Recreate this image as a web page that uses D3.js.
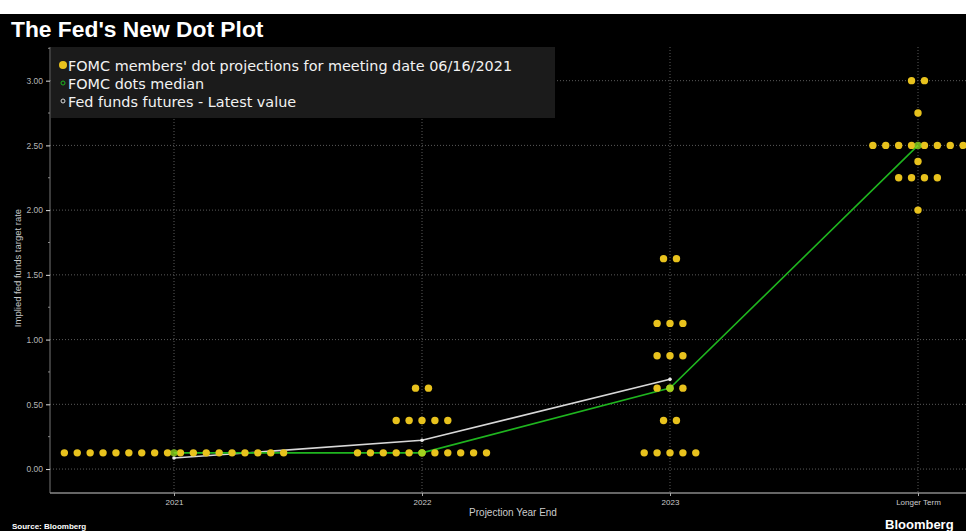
<!DOCTYPE html>
<html>
<head>
<meta charset="utf-8">
<script src="https://cdn.jsdelivr.net/npm/d3@7"></script>
<style>
  body { margin: 0; background: #fff; }
  svg { display: block; }
</style>
</head>
<body>
<div id="vis"></div>
<script>
// Data
const categories = ["2021", "2022", "2023", "Longer Term"];

// FOMC dots: rate level and how many members put a dot there
const dots2021 = [{ rate: 0.125, count: 18 }];
const dots2022 = [{ rate: 0.125, count: 11 }, { rate: 0.375, count: 5 }, { rate: 0.625, count: 2 }];
const dots2023 = [
    { rate: 0.125, count: 5 }, { rate: 0.375, count: 2 }, { rate: 0.625, count: 3 },
    { rate: 0.875, count: 3 }, { rate: 1.125, count: 3 }, { rate: 1.625, count: 2 }
];
const dotsLonger = [
    { rate: 2.0, count: 1 }, { rate: 2.25, count: 4 }, { rate: 2.375, count: 1 },
    { rate: 2.5, count: 8 }, { rate: 2.75, count: 1 }, { rate: 3.0, count: 2 }
];
const dotGroups = [dots2021, dots2022, dots2023, dotsLonger];

const medianValues = [0.125, 0.125, 0.625, 2.5];
const futuresValues = [0.085, 0.222, 0.693];

const yTicks = [0, 0.5, 1, 1.5, 2, 2.5, 3];
const legendLabels = [
    "FOMC members' dot projections for meeting date 06/16/2021",
    "FOMC dots median",
    "Fed funds futures - Latest value"
];

const W = 966, H = 531;
const plot = { left: 50, right: 1042, top: 47, bottom: 493 };
const dotGap = 12.9;

const svg = d3.select("#vis").append("svg")
    .attr("width", W)
    .attr("height", H);

// fundo preto
svg.append("rect")
    .attr("x", 0).attr("y", 14)
    .attr("width", W).attr("height", H - 14)
    .attr("fill", "#000");

const x = d3.scalePoint()
    .domain(categories)
    .range([plot.left, plot.right])
    .padding(0.5);

const y = d3.scaleLinear()
    .domain([-0.185, 3.26])
    .range([plot.bottom, plot.top]);

// grelha
svg.append("g")
    .selectAll("line")
    .data(yTicks)
    .join("line")
    .attr("x1", plot.left).attr("x2", plot.right)
    .attr("y1", d => y(d)).attr("y2", d => y(d))
    .attr("stroke", "#5a5a5a")
    .attr("stroke-dasharray", "1,2");

svg.append("g")
    .selectAll("line")
    .data(categories)
    .join("line")
    .attr("x1", d => x(d)).attr("x2", d => x(d))
    .attr("y1", plot.top).attr("y2", plot.bottom)
    .attr("stroke", "#5a5a5a")
    .attr("stroke-dasharray", "1,2");

// eixo y
const yAxis = svg.append("g")
    .attr("transform", `translate(${plot.left},0)`)
    .call(d3.axisLeft(y).tickValues(yTicks).tickFormat(d3.format(".2f")).tickSize(4).tickPadding(3));
yAxis.select(".domain").attr("stroke", "#777").attr("d", `M0,${plot.top}V${plot.bottom}`);
yAxis.selectAll(".tick line").attr("stroke", "#ddd");
yAxis.selectAll(".tick text")
    .attr("fill", "#b5b5b5")
    .attr("font-family", "Liberation Sans Narrow, Liberation Sans, sans-serif")
    .attr("font-size", 8.5);

// minor ticks
svg.append("g")
    .selectAll("line")
    .data(d3.range(0.25, 3.26, 0.5))
    .join("line")
    .attr("x1", plot.left - 2).attr("x2", plot.left)
    .attr("y1", d => y(d)).attr("y2", d => y(d))
    .attr("stroke", "#888");

// eixo x
const xAxis = svg.append("g")
    .attr("transform", `translate(0,${plot.bottom})`)
    .call(d3.axisBottom(x).tickSize(3).tickPadding(3));
xAxis.select(".domain").attr("stroke", "#888").attr("stroke-width", 1.5)
    .attr("d", `M${plot.left},0H${plot.right}`);
xAxis.selectAll(".tick line").attr("stroke", "#aaa");
xAxis.selectAll(".tick text")
    .attr("fill", "#ccc")
    .attr("font-family", "Liberation Sans Narrow, Liberation Sans, sans-serif")
    .attr("font-size", 8);

svg.append("text")
    .attr("x", 513).attr("y", 516)
    .attr("text-anchor", "middle")
    .attr("fill", "#ccc")
    .attr("font-family", "Liberation Sans, sans-serif")
    .attr("font-size", 10)
    .text("Projection Year End");

svg.append("text")
    .attr("transform", `translate(21,${268}) rotate(-90)`)
    .attr("text-anchor", "middle")
    .attr("fill", "#c8c8c8")
    .attr("font-family", "Liberation Sans, sans-serif")
    .attr("font-size", 9.5)
    .text("Implied fed funds target rate");

// linhas
const line = d3.line()
    .x((d, i) => x(categories[i]))
    .y(d => y(d));

svg.append("path")
    .datum(futuresValues)
    .attr("d", line)
    .attr("fill", "none")
    .attr("stroke", "#d8d8d8")
    .attr("stroke-width", 1.6);

svg.append("path")
    .datum(medianValues)
    .attr("d", line)
    .attr("fill", "none")
    .attr("stroke", "#1fb51f")
    .attr("stroke-width", 1.6);

// pontos dos membros
const dotData = [];
dotGroups.forEach((group, ci) => {
    group.forEach(g => {
        for (let i = 0; i < g.count; i++) {
            dotData.push({ cat: categories[ci], rate: g.rate, offset: i - (g.count - 1) / 2 });
        }
    });
});

svg.append("g")
    .selectAll("circle")
    .data(dotData)
    .join("circle")
    .attr("cx", d => x(d.cat) + d.offset * dotGap)
    .attr("cy", d => y(d.rate))
    .attr("r", 3.7)
    .attr("fill", "#e8c21d");

// marcadores das linhas
svg.append("g")
    .selectAll("circle")
    .data(futuresValues)
    .join("circle")
    .attr("cx", (d, i) => x(categories[i]))
    .attr("cy", d => y(d))
    .attr("r", 1.8)
    .attr("fill", "#eee");

svg.append("g")
    .selectAll("circle")
    .data(medianValues)
    .join("circle")
    .attr("cx", (d, i) => x(categories[i]))
    .attr("cy", d => y(d))
    .attr("r", 3.7)
    .attr("fill", "#8fd61f")
    .attr("opacity", 0.8);

// legenda
svg.append("rect")
    .attr("x", 51).attr("y", 47)
    .attr("width", 504).attr("height", 71)
    .attr("fill", "#1b1b1b");

const legend = svg.append("g");
const legendY = [66, 84, 102];
legend.append("circle").attr("cx", 63).attr("cy", legendY[0] - 1).attr("r", 4).attr("fill", "#e8c21d");
legend.append("circle").attr("cx", 63).attr("cy", legendY[1] - 1).attr("r", 2)
    .attr("fill", "none").attr("stroke", "#1fb51f").attr("stroke-width", 1);
legend.append("circle").attr("cx", 63).attr("cy", legendY[2] - 1).attr("r", 2)
    .attr("fill", "none").attr("stroke", "#ddd").attr("stroke-width", 1);

legend.selectAll("text")
    .data(legendLabels)
    .join("text")
    .attr("x", 68)
    .attr("y", (d, i) => legendY[i] + 5)
    .attr("fill", "#f2f2f2")
    .attr("font-family", "DejaVu Sans, sans-serif")
    .attr("font-size", 14.4)
    .text(d => d);

// titulo e rodape
svg.append("text")
    .attr("x", 11).attr("y", 37)
    .attr("fill", "#fff")
    .attr("font-family", "Liberation Sans, sans-serif")
    .attr("font-weight", "bold")
    .attr("font-size", 22.8)
    .text("The Fed's New Dot Plot");

svg.append("text")
    .attr("x", 12).attr("y", 529)
    .attr("fill", "#fff")
    .attr("font-family", "Liberation Sans, sans-serif")
    .attr("font-weight", "bold")
    .attr("font-size", 8)
    .text("Source: Bloomberg");

svg.append("text")
    .attr("x", 885).attr("y", 529)
    .attr("fill", "#fff")
    .attr("font-family", "Liberation Sans, sans-serif")
    .attr("font-weight", "bold")
    .attr("font-size", 13)
    .text("Bloomberg");
</script>
</body>
</html>
